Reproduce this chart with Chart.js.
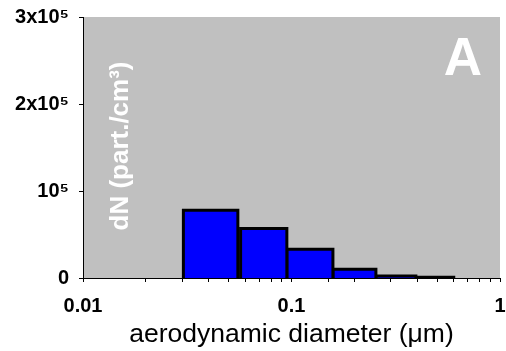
<!DOCTYPE html>
<html>
<head>
<meta charset="utf-8">
<script src="https://cdn.jsdelivr.net/npm/chart.js@4/dist/chart.umd.min.js"></script>
<style>
html,body{margin:0;padding:0;background:#fff;}
#wrap{width:506px;height:351px;}
</style>
</head>
<body>
<div id="wrap"><canvas id="c" width="506" height="351"></canvas></div>
<script>
// Bin edges (aerodynamic diameter, µm) and number concentrations (part./cm3)
const binLow  = [0.0303, 0.057, 0.095, 0.158, 0.254, 0.395];
const binHigh = [0.0553, 0.095, 0.158, 0.254, 0.395, 0.600];
const counts  = [78000, 57000, 33000, 10000, 2300, 800];

const xTickValues = [0.01, 0.1, 1];
const xTickLabels = ['0.01', '0.1', '1'];
const yTickLabels = ['0', '10\u2075', '2x10\u2075', '3x10\u2075'];
const yTitle = 'dN (part./cm\u00B3)';
const xTitle = 'aerodynamic diameter (\u03BCm)';
const panelLabel = 'A';

const FONT = '"Liberation Sans", Arial, sans-serif';

const datasets = binLow.map((lo, i) => ({
  data: [
    {x: lo, y: 0},
    {x: lo, y: counts[i]},
    {x: binHigh[i], y: counts[i]},
    {x: binHigh[i], y: 0}
  ],
  borderColor: '#000000',
  borderWidth: 3,
  backgroundColor: '#0000FF',
  fill: 'origin',
  pointRadius: 0,
  tension: 0,
  borderJoinStyle: 'miter'
}));

const bgPlugin = {
  id: 'bg',
  beforeDraw(chart) {
    const {ctx, chartArea: a} = chart;
    ctx.save();
    ctx.fillStyle = '#C0C0C0';
    ctx.fillRect(a.left, a.top, a.right - a.left, a.bottom - a.top);
    ctx.restore();
  }
};

const textPlugin = {
  id: 'texts',
  afterDatasetsDraw(chart) {
    const {ctx, chartArea: a} = chart;
    ctx.save();
    ctx.fillStyle = '#FFFFFF';
    ctx.font = 'bold 53px ' + FONT;
    ctx.textAlign = 'center';
    ctx.textBaseline = 'alphabetic';
    ctx.fillText(panelLabel, a.right - 37, a.top + 58);
    ctx.translate(a.left + 45, a.top + 129);
    ctx.rotate(-Math.PI / 2);
    ctx.font = 'bold 26px ' + FONT;
    ctx.textAlign = 'center';
    ctx.fillText(yTitle, 0, 0);
    ctx.restore();
  }
};

new Chart(document.getElementById('c'), {
  type: 'line',
  data: { datasets },
  options: {
    responsive: false,
    animation: false,
    events: [],
    layout: { padding: { top: 17, right: 6, left: 0, bottom: 0 } },
    plugins: { legend: { display: false }, tooltip: { enabled: false } },
    scales: {
      x: {
        type: 'logarithmic',
        min: 0.01,
        max: 1,
        afterFit(s) { s.height = 73; s.paddingRight = 0; s.paddingLeft = 0; },
        grid: { drawOnChartArea: false, drawTicks: true, tickLength: 4, color: '#000' },
        border: { display: true, color: '#000', width: 1 },
        ticks: {
          autoSkip: false,
          maxRotation: 0,
          color: '#000',
          padding: 12,
          font: { family: FONT, size: 20, weight: 'bold' },
          callback(v) {
            const i = xTickValues.findIndex(t => Math.abs(t - v) / t < 1e-6);
            return i >= 0 ? xTickLabels[i] : '';
          }
        },
        title: {
          display: true,
          text: xTitle,
          color: '#000',
          font: { family: FONT, size: 26.5 },
          padding: { top: 0, bottom: 0 }
        }
      },
      y: {
        type: 'linear',
        min: 0,
        max: 300000,
        afterFit(s) { s.width = 83; s.paddingTop = 0; s.paddingBottom = 0; },
        grid: { drawOnChartArea: false, drawTicks: true, tickLength: 4, color: '#000' },
        border: { display: true, color: '#000', width: 1 },
        ticks: {
          stepSize: 100000,
          color: '#000',
          padding: 10,
          font: { family: FONT, size: 20, weight: 'bold' },
          callback(v) { return yTickLabels[Math.round(v / 100000)]; }
        }
      }
    }
  },
  plugins: [bgPlugin, textPlugin]
});
</script>
</body>
</html>
